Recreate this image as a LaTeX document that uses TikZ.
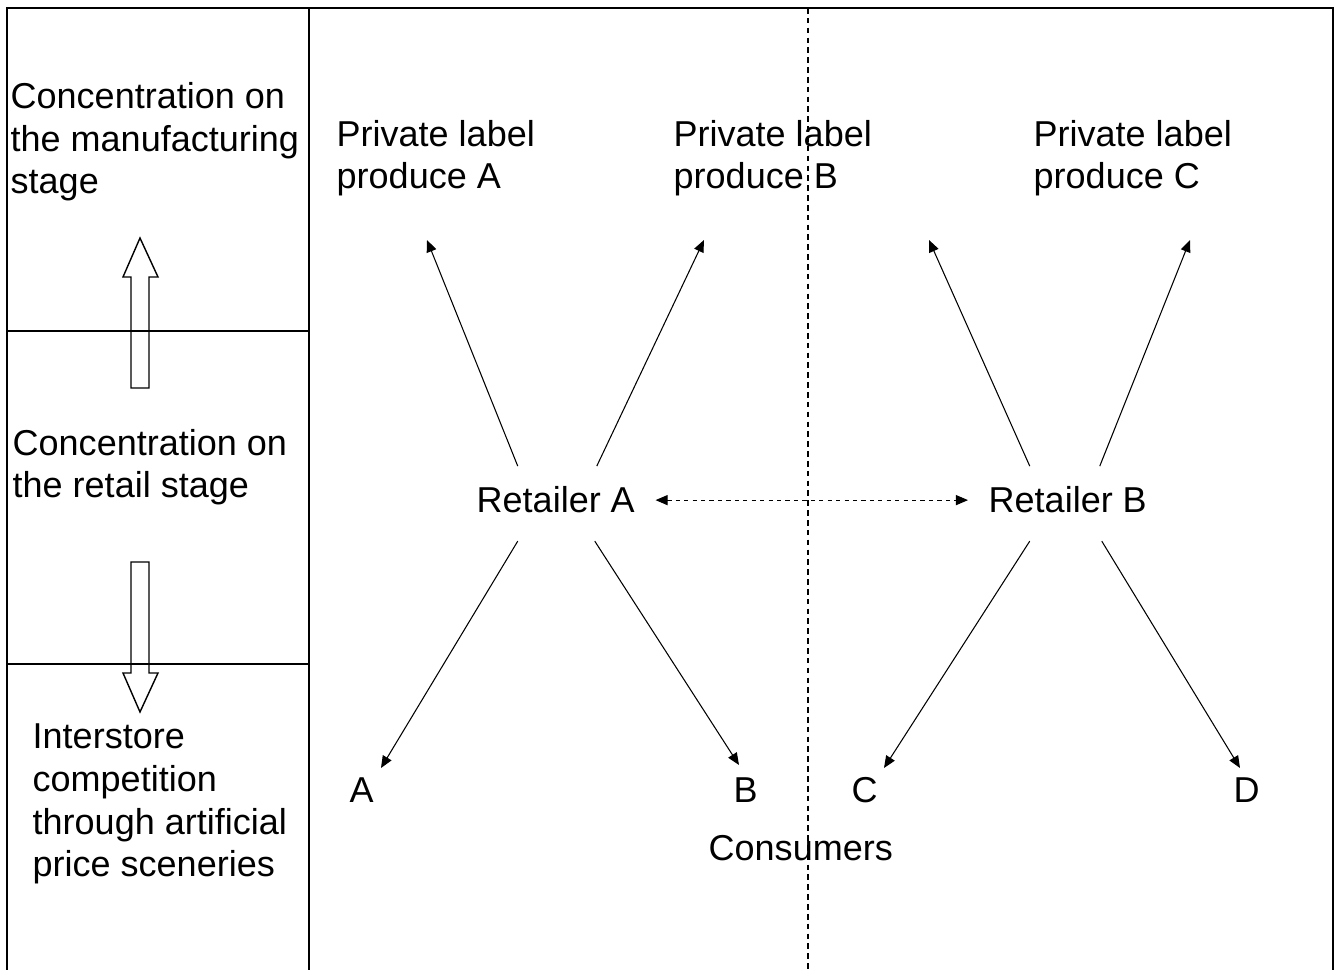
\documentclass[tikz,border=0pt]{standalone}
\usepackage{fontspec}
\setmainfont{Liberation Sans}
\usetikzlibrary{arrows.meta}

\tikzset{
  lbl/.style={inner sep=0pt, align=left, font=\fontsize{10.24}{12.2}\selectfont},
  retl/.style={lbl, inner xsep=0.2cm},
  frame/.style={line width=0.4pt},
  split/.style={line width=0.4pt, dash pattern=on 1.6pt off 1.2pt},
  arr/.style={-{Triangle[length=1.2mm,width=1mm]}, line width=0.3pt},
  dbl/.style={{Triangle[length=1.2mm,width=1mm]}-{Triangle[length=1.2mm,width=1mm]}, line width=0.3pt, dash pattern=on 1.2pt off 1.2pt},
  hollow/.style={line width=0.4pt}
}

\begin{document}
\begin{tikzpicture}[x=0.01cm,y=-0.01cm]
    \useasboundingbox (0,0) rectangle (1338,970);
    % frame and stages
    \draw[frame] (7,970) -- (7,8) -- (1333,8) -- (1333,970);
    \draw[frame] (309,8) -- (309,970);
    \draw[frame] (7,331) -- (309,331);
    \draw[frame] (7,664) -- (309,664);
    \draw[split] (808,8) -- (808,970);
    % base of a multi-line node = last line
    \node[lbl,anchor=base west] (manuf) at (10,194) {Concentration on\\the manufacturing\\stage};
    \node[lbl,anchor=base west] (retail) at (12,498) {Concentration on\\the retail stage};
    \node[lbl,anchor=base west] (inter) at (32,877) {Interstore\\competition\\through artificial\\price sceneries};
    \draw[hollow] (131,388) -- (131,277) -- (123,277) -- (140,238) -- (158,277) -- (149,277) -- (149,388) -- cycle;
    \draw[hollow] (131,562) -- (131,673) -- (123,673) -- (140,712) -- (158,673) -- (149,673) -- (149,562) -- cycle;
    % private labels
    \node[lbl,anchor=base west] (plA) at (336,189) {Private label\\produce A};
    \node[lbl,anchor=base west] (plB) at (673,189) {Private label\\produce B};
    \node[lbl,anchor=base west] (plC) at (1033,189) {Private label\\produce C};
    % retailers
    \node[retl,anchor=base west] (retA) at (456,513) {Retailer A};
    \node[retl,anchor=base west] (retB) at (968,513) {Retailer B};
    % consumers
    \node[lbl,anchor=base west] (cA) at (349,803) {A};
    \node[lbl,anchor=base west] (cB) at (733,803) {B};
    \node[lbl,anchor=base west] (cC) at (851,803) {C};
    \node[lbl,anchor=base west] (cD) at (1233,803) {D};
    \node[lbl,anchor=base west] (cons) at (708,861) {Consumers};
    % arrow tips
    \coordinate (tA1) at (427,240);
    \coordinate (tA2) at (704,240);
    \coordinate (tB1) at (929,240);
    \coordinate (tB2) at (1190,240);
    \coordinate (tcA) at (381,768);
    \coordinate (tcB) at (739,765);
    \coordinate (tcC) at (884,768);
    \coordinate (tcD) at (1240,768);
    \draw[arr] ([shift={(-38,-34)}]retA.center) -- (tA1);
    \draw[arr] ([shift={(41,-34)}]retA.center) -- (tA2);
    \draw[arr] ([shift={(-38,41)}]retA.center) -- (tcA);
    \draw[arr] ([shift={(39,41)}]retA.center) -- (tcB);
    \draw[arr] ([shift={(-38,-34)}]retB.center) -- (tB1);
    \draw[arr] ([shift={(32,-34)}]retB.center) -- (tB2);
    \draw[arr] ([shift={(-38,41)}]retB.center) -- (tcC);
    \draw[arr] ([shift={(34,41)}]retB.center) -- (tcD);
    \draw[dbl] (retA.east) -- (retB.west);
\end{tikzpicture}
\end{document}
